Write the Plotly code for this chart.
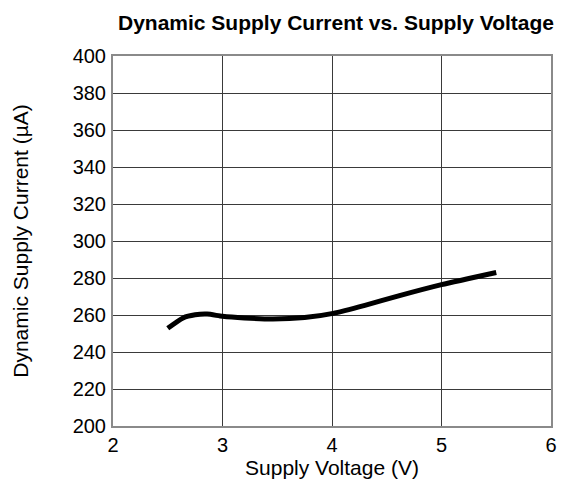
import plotly.graph_objects as go

voltage = [2.50, 2.64, 2.75, 2.86, 3.00, 3.20, 3.46, 3.75, 4.01, 4.30, 4.60, 5.00, 5.50]
current = [252.8, 258.4, 260.1, 260.5, 259.3, 258.4, 257.8, 258.6, 260.9, 265.2, 270.2, 276.4, 283.0]

x_ticks = [2, 3, 4, 5, 6]
y_ticks = [200, 220, 240, 260, 280, 300, 320, 340, 360, 380, 400]

fig = go.Figure()
fig.add_trace(go.Scatter(x=voltage, y=current, mode="lines",
                         line=dict(color="black", width=5, shape="spline", smoothing=0.6),
                         showlegend=False, hoverinfo="skip"))

# the page body has an 8px default margin; size the figure to fit the window
W, H = 571, 474
font = "Liberation Sans, Arial, sans-serif"
fig.update_layout(
    width=W, height=H,
    margin=dict(l=105, r=28, t=48, b=56),
    paper_bgcolor="white", plot_bgcolor="white",
    font=dict(family=font, size=20, color="black"),
    title=dict(text="<b>Dynamic Supply Current vs. Supply Voltage</b>",
               x=(336 - 8) / W, xanchor="center", xref="container",
               y=1 - 15 / H, yanchor="middle",
               font=dict(family=font, size=21, color="black")),
)
fig.update_xaxes(range=[2, 6], tickvals=x_ticks, ticks="", showgrid=True,
                 gridcolor="#3a3a3a", gridwidth=1, zeroline=False,
                 showline=True, linecolor="#8a8a8a", linewidth=2, mirror=True,
                 tickfont=dict(size=20), ticklabelstandoff=0, automargin=False,
                 title=dict(text="Supply Voltage (V)", font=dict(size=21), standoff=4))
fig.update_yaxes(range=[200, 400], tickvals=y_ticks, ticks="", showgrid=True,
                 gridcolor="#3a3a3a", gridwidth=1, zeroline=False,
                 showline=True, linecolor="#8a8a8a", linewidth=2, mirror=True,
                 tickfont=dict(size=20), ticklabelstandoff=1, automargin=False,
                 title=dict(text="Dynamic Supply Current (µA)", font=dict(size=21), standoff=38))

fig.write_html("out.html")
